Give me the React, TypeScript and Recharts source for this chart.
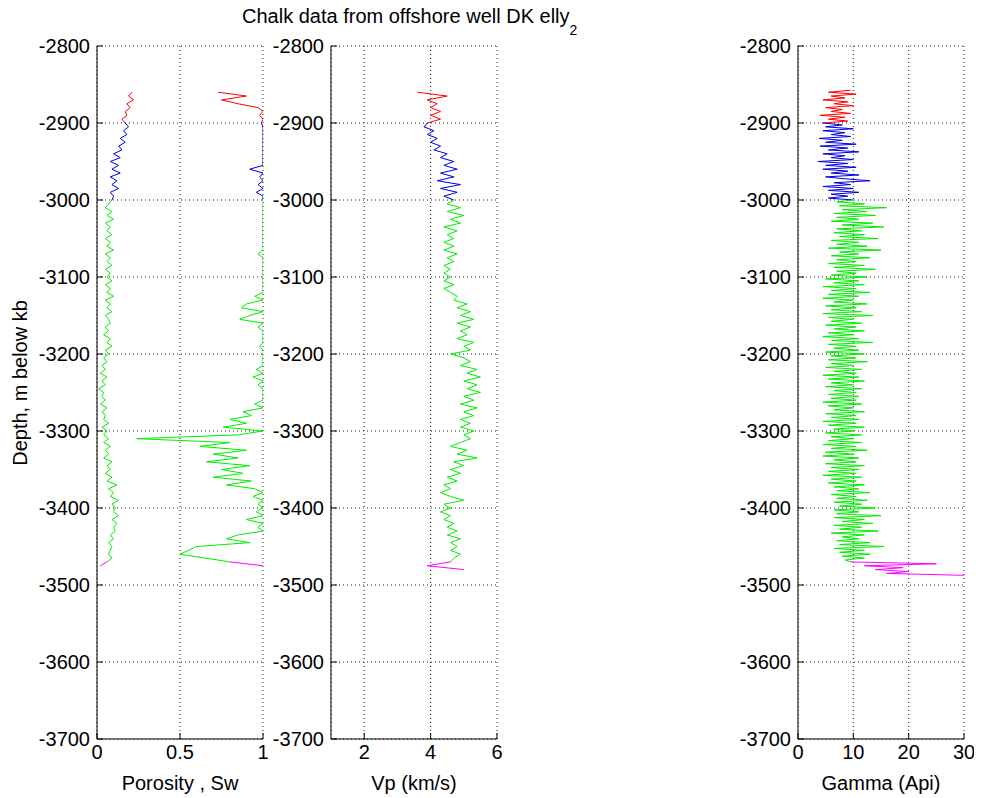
import { LineChart, Line, XAxis, YAxis, CartesianGrid } from 'recharts'

// depth samples, m below kb (porosity, Sw, Vp)
const depth = [
  -2860, -2865, -2870, -2875, -2880, -2885, -2890, -2895, -2900, -2905,
  -2910, -2915, -2920, -2925, -2930, -2935, -2940, -2945, -2950, -2955,
  -2960, -2965, -2970, -2975, -2980, -2985, -2990, -2995, -3000, -3005,
  -3010, -3015, -3020, -3025, -3030, -3035, -3040, -3045, -3050, -3055,
  -3060, -3065, -3070, -3075, -3080, -3085, -3090, -3095, -3100, -3105,
  -3110, -3115, -3120, -3125, -3130, -3135, -3140, -3145, -3150, -3155,
  -3160, -3165, -3170, -3175, -3180, -3185, -3190, -3195, -3200, -3205,
  -3210, -3215, -3220, -3225, -3230, -3235, -3240, -3245, -3250, -3255,
  -3260, -3265, -3270, -3275, -3280, -3285, -3290, -3295, -3300, -3305,
  -3310, -3315, -3320, -3325, -3330, -3335, -3340, -3345, -3350, -3355,
  -3360, -3365, -3370, -3375, -3380, -3385, -3390, -3395, -3400, -3405,
  -3410, -3415, -3420, -3425, -3430, -3435, -3440, -3445, -3450, -3455,
  -3460, -3465, -3470, -3475, -3480, -3485,
]

const porosity = [
  0.21, 0.19, 0.22, 0.18, 0.2, 0.17, 0.18, 0.15, 0.17, 0.19,
  0.16, 0.18, 0.14, 0.17, 0.13, 0.15, 0.1, 0.14, 0.08, 0.13,
  0.09, 0.14, 0.08, 0.12, 0.09, 0.13, 0.08, 0.1, 0.09, 0.07,
  0.05, 0.09, 0.06, 0.1, 0.05, 0.08, 0.06, 0.09, 0.05, 0.08,
  0.06, 0.1, 0.05, 0.08, 0.06, 0.09, 0.05, 0.08, 0.06, 0.09,
  0.05, 0.08, 0.06, 0.1, 0.05, 0.08, 0.06, 0.09, 0.05, 0.07,
  0.08, 0.05, 0.07, 0.04, 0.08, 0.06, 0.09, 0.05, 0.07, 0.04,
  0.06, 0.03, 0.05, 0.02, 0.06, 0.03, 0.05, 0.01, 0.04, 0.03,
  0.05, 0.02, 0.06, 0.03, 0.05, 0.04, 0.07, 0.03, 0.06, 0.04,
  0.07, 0.04, 0.08, 0.05, 0.07, 0.04, 0.09, 0.06, 0.08, 0.05,
  0.09, 0.06, 0.12, 0.07, 0.1, 0.08, 0.13, 0.09, 0.11, 0.1,
  0.13, 0.09, 0.12, 0.1, 0.11, 0.08, 0.1, 0.07, 0.09, 0.08,
  0.07, 0.09, 0.06, 0.02, null, null,
]

const sw = [
  0.73, 0.9, 0.75, 0.85, 0.97, 1, 0.98, 1, 0.99, 1,
  1, 1, 1, 1, 1, 1, 1, 1, 1, 1,
  0.92, 1, 0.98, 1, 0.97, 1, 0.96, 1, 1, 1,
  1, 1, 1, 1, 1, 1, 1, 1, 1, 1,
  1, 1, 0.97, 1, 1, 1, 1, 1, 1, 1,
  1, 1, 1, 0.95, 1, 0.9, 0.87, 1, 0.92, 0.86,
  1, 0.97, 1, 1, 1, 1, 0.98, 1, 1, 1,
  1, 1, 0.96, 1, 0.94, 1, 0.97, 1, 1, 1,
  1, 0.95, 1, 0.88, 0.93, 0.8, 0.9, 0.76, 1, 0.85,
  0.24, 0.8, 0.62, 0.9, 0.7, 0.85, 0.66, 0.92, 0.75, 0.88,
  0.7, 0.93, 0.78, 0.95, 1, 0.94, 1, 0.97, 1, 0.96,
  1, 0.9, 1, 0.97, 1, 0.85, 0.78, 0.92, 0.6, 0.55,
  0.5, 0.65, 0.8, 1, null, null,
]

const vp = [
  3.6, 4.5, 3.9, 4.2, 4.0, 4.3, 4.0, 4.3, 3.9, 3.8,
  4.1, 3.9, 4.2, 4.0, 4.3, 4.1, 4.5, 4.3, 4.7, 4.4,
  4.8, 4.3, 4.7, 4.2, 4.9, 4.3, 4.8, 4.4, 4.7, 4.5,
  4.9, 4.5, 5.0, 4.6, 4.9, 4.4, 4.8, 4.5, 4.7, 4.4,
  4.7, 4.4, 4.8, 4.5, 4.7, 4.4, 4.6, 4.4, 4.6, 4.4,
  4.7, 4.4, 4.6, 4.8, 4.7, 5.1, 4.8, 5.2, 4.9, 5.3,
  4.8, 5.2, 4.9, 5.1, 4.8, 5.3, 5.0, 5.2, 4.6, 5.0,
  5.2, 4.9, 5.4, 5.1, 5.5, 5.0, 5.4, 5.1, 5.5, 5.0,
  5.3, 4.9, 5.4, 5.0, 5.3, 4.9, 5.2, 4.9, 5.3, 5.0,
  5.2, 4.9, 4.6, 5.1, 4.8, 5.4, 4.7, 5.0, 4.6, 4.9,
  4.5, 4.8, 4.4, 4.6, 4.3, 4.6, 5.0, 4.4, 4.6, 4.3,
  4.6, 4.4, 4.7, 4.5, 4.8, 4.5, 4.9, 4.6, 4.8, 4.6,
  4.9, 4.7, 4.6, 3.9, 5.0, null,
]

// gamma is sampled finer (2.5 m)
const gammaDepth = [
  -2857.5, -2860, -2862.5, -2865, -2867.5, -2870, -2872.5, -2875, -2877.5, -2880,
  -2882.5, -2885, -2887.5, -2890, -2892.5, -2895, -2897.5, -2900, -2902.5, -2905,
  -2907.5, -2910, -2912.5, -2915, -2917.5, -2920, -2922.5, -2925, -2927.5, -2930,
  -2932.5, -2935, -2937.5, -2940, -2942.5, -2945, -2947.5, -2950, -2952.5, -2955,
  -2957.5, -2960, -2962.5, -2965, -2967.5, -2970, -2972.5, -2975, -2977.5, -2980,
  -2982.5, -2985, -2987.5, -2990, -2992.5, -2995, -2997.5, -3000, -3002.5, -3005,
  -3007.5, -3010, -3012.5, -3015, -3017.5, -3020, -3022.5, -3025, -3027.5, -3030,
  -3032.5, -3035, -3037.5, -3040, -3042.5, -3045, -3047.5, -3050, -3052.5, -3055,
  -3057.5, -3060, -3062.5, -3065, -3067.5, -3070, -3072.5, -3075, -3077.5, -3080,
  -3082.5, -3085, -3087.5, -3090, -3092.5, -3095, -3097.5, -3100, -3102.5, -3105,
  -3107.5, -3110, -3112.5, -3115, -3117.5, -3120, -3122.5, -3125, -3127.5, -3130,
  -3132.5, -3135, -3137.5, -3140, -3142.5, -3145, -3147.5, -3150, -3152.5, -3155,
  -3157.5, -3160, -3162.5, -3165, -3167.5, -3170, -3172.5, -3175, -3177.5, -3180,
  -3182.5, -3185, -3187.5, -3190, -3192.5, -3195, -3197.5, -3200, -3202.5, -3205,
  -3207.5, -3210, -3212.5, -3215, -3217.5, -3220, -3222.5, -3225, -3227.5, -3230,
  -3232.5, -3235, -3237.5, -3240, -3242.5, -3245, -3247.5, -3250, -3252.5, -3255,
  -3257.5, -3260, -3262.5, -3265, -3267.5, -3270, -3272.5, -3275, -3277.5, -3280,
  -3282.5, -3285, -3287.5, -3290, -3292.5, -3295, -3297.5, -3300, -3302.5, -3305,
  -3307.5, -3310, -3312.5, -3315, -3317.5, -3320, -3322.5, -3325, -3327.5, -3330,
  -3332.5, -3335, -3337.5, -3340, -3342.5, -3345, -3347.5, -3350, -3352.5, -3355,
  -3357.5, -3360, -3362.5, -3365, -3367.5, -3370, -3372.5, -3375, -3377.5, -3380,
  -3382.5, -3385, -3387.5, -3390, -3392.5, -3395, -3397.5, -3400, -3402.5, -3405,
  -3407.5, -3410, -3412.5, -3415, -3417.5, -3420, -3422.5, -3425, -3427.5, -3430,
  -3432.5, -3435, -3437.5, -3440, -3442.5, -3445, -3447.5, -3450, -3452.5, -3455,
  -3457.5, -3460, -3462.5, -3465, -3467.5, -3470, -3472.5, -3475, -3477.5, -3480,
  -3482.5, -3485, -3487.5,
]

const gamma = [
  9.5, 5.5, 10.5, 6.0, 8.5, 4.5, 9.0, 6.5, 10.0, 5.0, 8.0, 6.0, 9.5, 4.0, 8.5, 5.5, 9.0, 4.5, 8.0, 5.0,
  10.0, 4.5, 8.5, 6.0, 9.5, 3.8, 8.0, 5.0, 10.5, 4.0, 9.0, 5.5, 11.0, 4.5, 8.5, 6.0, 10.0, 3.6, 9.0, 5.0,
  10.5, 4.5, 9.0, 6.0, 11.0, 5.0, 8.5, 13.0, 6.5, 9.5, 4.5, 10.0, 5.5, 11.0, 6.0, 9.0, 5.5, 10.0, 7.0, 12.0,
  7.5, 16.0, 8.0, 12.5, 6.5, 14.0, 7.0, 11.0, 6.0, 13.5, 8.0, 15.5, 7.0, 11.5, 6.5, 12.0, 7.5, 14.5, 6.0, 11.0,
  7.0, 12.5, 5.5, 15.0, 7.5, 11.0, 6.0, 13.0, 7.0, 10.5, 5.5, 12.0, 6.5, 14.0, 7.0, 10.5, 6.0, 12.5, 5.0, 11.0,
  6.5, 12.0, 4.5, 10.5, 6.0, 13.0, 5.5, 11.0, 4.5, 10.0, 6.5, 12.5, 5.0, 10.5, 6.0, 11.5, 4.5, 13.5, 5.5, 10.0,
  6.0, 11.5, 5.0, 10.5, 6.5, 12.0, 5.5, 10.0, 4.5, 11.0, 6.0, 13.5, 5.5, 10.5, 6.5, 11.0, 5.0, 12.0, 6.0, 10.5,
  5.5, 12.5, 6.0, 10.0, 5.0, 11.5, 6.5, 10.5, 4.5, 11.0, 5.5, 12.0, 6.0, 10.0, 5.0, 11.5, 6.5, 10.5, 5.5, 11.0,
  6.0, 10.5, 4.5, 11.5, 5.5, 10.0, 6.5, 12.0, 5.0, 10.5, 6.0, 11.0, 4.5, 10.5, 5.5, 12.0, 6.5, 10.0, 5.0, 11.5,
  6.0, 10.0, 5.5, 11.5, 4.5, 10.5, 6.0, 12.5, 5.0, 10.0, 4.5, 11.0, 6.5, 10.5, 5.0, 12.0, 6.0, 11.0, 5.5, 10.5,
  4.5, 11.5, 6.0, 10.5, 5.5, 12.0, 6.5, 11.0, 7.0, 13.0, 6.0, 10.5, 7.0, 12.5, 6.5, 11.5, 7.5, 14.0, 6.5, 11.0,
  7.0, 15.0, 6.5, 12.0, 8.0, 13.5, 6.5, 11.5, 7.5, 14.5, 6.0, 12.0, 8.0, 11.0, 7.0, 13.0, 7.5, 15.5, 6.5, 12.0,
  7.5, 13.0, 8.0, 12.0, 8.5, 9.5, 25.0, 12.0, 19.0, 14.0, 20.0, 16.0, 30.5,
]

const depthTicks = [-3700, -3600, -3500, -3400, -3300, -3200, -3100, -3000, -2900, -2800]

// colour zones by depth interval (top, base)
const zones = [
  { key: 'r', top: -2800, base: -2900, color: '#ff0000' },
  { key: 'b', top: -2900, base: -3000, color: '#0000e0' },
  { key: 'g', top: -3000, base: -3470, color: '#00ee00' },
  { key: 'm', top: -3470, base: -3700, color: '#ff00ff' },
]

function zoneRows(depths: number[], logs: Record<string, (number | null)[]>) {
  return depths.map((d, i) => {
    const row: Record<string, number | null> = { depth: d }
    for (const name of Object.keys(logs)) {
      const v = logs[name][i]
      for (const z of zones) {
        row[`${name}_${z.key}`] = d <= z.top && d >= z.base && v != null ? v : null
      }
    }
    return row
  })
}

const rows = zoneRows(depth, { phi: porosity, sw, vp })
const gammaRows = zoneRows(gammaDepth, { gr: gamma })

const FONT = '"Liberation Sans", Arial, sans-serif'
const tickStyle = { fill: '#000', fontSize: 20, fontFamily: FONT }
const PLOT_W = 166
const AXIS_W = 60

type PanelProps = {
  left: number
  padLeft: number
  data: Record<string, number | null>[]
  xDomain: number[]
  xTicks: number[]
  xLabel: string
  series: string[]
}

function LogPanel({ left, padLeft, data, xDomain, xTicks, xLabel, series }: PanelProps) {
  const width = padLeft + AXIS_W + PLOT_W + 10
  return (
    <div style={{ position: 'absolute', left, top: 0 }}>
      <LineChart
        width={width}
        height={798}
        layout="vertical"
        data={data}
        margin={{ top: 46, right: 10, bottom: 4, left: padLeft }}
      >
        <CartesianGrid stroke="#222" strokeDasharray="1 3" />
        <XAxis
          type="number"
          domain={xDomain}
          ticks={xTicks}
          allowDataOverflow
          height={55}
          tickSize={-6}
          tickMargin={12}
          stroke="#000"
          tick={tickStyle}
          label={{ value: xLabel, position: 'insideBottom', offset: 4, fill: '#000', fontSize: 20, fontFamily: FONT }}
        />
        <XAxis
          xAxisId="top"
          orientation="top"
          type="number"
          domain={xDomain}
          ticks={xTicks}
          allowDataOverflow
          height={0}
          tickSize={-6}
          stroke="#000"
          tickFormatter={() => ''}
        />
        <YAxis
          type="number"
          dataKey="depth"
          domain={[-3700, -2800]}
          ticks={depthTicks}
          reversed
          allowDataOverflow
          width={AXIS_W}
          tickSize={-6}
          tickMargin={13}
          stroke="#000"
          tick={tickStyle}
        />
        {series.map((name) =>
          zones.map((z) => (
            <Line
              key={`${name}_${z.key}`}
              dataKey={`${name}_${z.key}`}
              stroke={z.color}
              strokeWidth={1}
              dot={false}
              activeDot={false}
              isAnimationActive={false}
            />
          ))
        )}
        <YAxis
          yAxisId="right"
          orientation="right"
          type="number"
          domain={[-3700, -2800]}
          ticks={depthTicks}
          reversed
          allowDataOverflow
          width={0}
          tickSize={-6}
          stroke="#000"
          tickFormatter={() => ''}
        />
      </LineChart>
    </div>
  )
}

export default function App() {
  return (
    <div style={{ position: 'absolute', left: 0, top: 0, width: 982, height: 798, background: '#fff', fontFamily: FONT }}>
      <svg width={982} height={798} style={{ position: 'absolute', left: 0, top: 0 }}>
        <text x={242} y={23} fontSize={20} fontFamily={FONT} fill="#000">
          Chalk data from offshore well DK elly
          <tspan fontSize={14} dy={12}>2</tspan>
        </text>
        <text x={27} y={383} fontSize={20} fontFamily={FONT} fill="#000" textAnchor="middle" transform="rotate(-90, 27, 383)">
          Depth, m below kb
        </text>
      </svg>
      <LogPanel left={0} padLeft={37} data={rows} xDomain={[0, 1]} xTicks={[0, 0.5, 1]} xLabel="Porosity , Sw" series={['phi', 'sw']} />
      <LogPanel left={271} padLeft={0} data={rows} xDomain={[1, 6]} xTicks={[2, 4, 6]} xLabel="Vp (km/s)" series={['vp']} />
      <LogPanel left={738} padLeft={0} data={gammaRows} xDomain={[0, 30]} xTicks={[0, 10, 20, 30]} xLabel="Gamma (Api)" series={['gr']} />
    </div>
  )
}
